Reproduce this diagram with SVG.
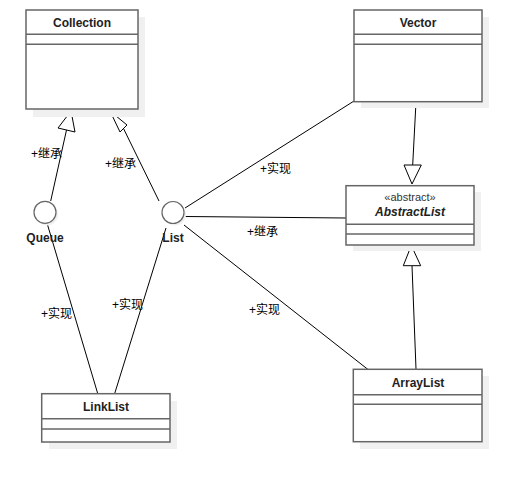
<svg xmlns="http://www.w3.org/2000/svg" width="522" height="482" viewBox="0 0 522 482">
<defs>
<style>
.shadow{fill:#f0f0f0;stroke:none}
.box{fill:#fff;stroke:#666;stroke-width:1.5}
.sep{stroke:#666;stroke-width:1.5}
.name{font-family:"Liberation Sans",Arial,sans-serif;font-size:12px;font-weight:bold;fill:#222;text-anchor:middle}
.stereo{font-family:"Liberation Sans",Arial,sans-serif;font-size:11px;fill:#333;text-anchor:middle}
.lbl{font-family:"Liberation Sans","Noto Sans CJK SC",sans-serif;font-size:12px;fill:#000}
.edge{stroke:#000;stroke-width:1;fill:none}
.tri{fill:#fff;stroke:#000;stroke-width:1}
.circ{fill:#fff;stroke:#666;stroke-width:1.2}
</style>
</defs>
<rect width="522" height="482" fill="#fff"/>
<g id="connectors">
<!-- Queue -> Collection -->
<line class="edge" x1="50.7" y1="201" x2="66.5" y2="130"/>
<polygon class="tri" points="71,111 58,128 75,132"/>
<!-- List -> Collection -->
<line class="edge" x1="159" y1="201" x2="123.5" y2="128.5"/>
<polygon class="tri" points="110,111 120,132 127,125"/>
<!-- List -> Vector -->
<line class="edge" x1="185" y1="208" x2="354" y2="101"/>
<!-- List -> AbstractList -->
<line class="edge" x1="185" y1="216.5" x2="346" y2="218"/>
<!-- List -> ArrayList -->
<line class="edge" x1="184" y1="225" x2="368" y2="369.5"/>
<!-- Queue -> LinkList -->
<line class="edge" x1="47" y1="223" x2="97.7" y2="393.5"/>
<!-- List -> LinkList -->
<line class="edge" x1="166" y1="228" x2="114.7" y2="393.5"/>
<!-- Vector -> AbstractList -->
<line class="edge" x1="416" y1="102" x2="412.7" y2="165"/>
<polygon class="tri" points="412,184 404,165 421.3,165"/>
<!-- ArrayList -> AbstractList -->
<line class="edge" x1="416" y1="369" x2="412" y2="265.7"/>
<polygon class="tri" points="411.3,245.5 403.3,265.7 420.7,265.7"/>
<text class="lbl" x="31" y="158">+继承</text>
<text class="lbl" x="105" y="168">+继承</text>
<text class="lbl" x="260" y="173">+实现</text>
<text class="lbl" x="247" y="236">+继承</text>
<text class="lbl" x="249" y="314">+实现</text>
<text class="lbl" x="41" y="318">+实现</text>
<text class="lbl" x="112" y="309">+实现</text>
</g>
<g id="Collection">
<rect class="shadow" x="33" y="17" width="112" height="100"/>
<rect class="box" x="26" y="10" width="112" height="99"/>
<line class="sep" x1="26" y1="34.3" x2="138" y2="34.3"/>
<line class="sep" x1="26" y1="44.3" x2="138" y2="44.3"/>
<text class="name" x="82" y="26.5">Collection</text>
</g>
<g id="Vector">
<rect class="shadow" x="361" y="17" width="128" height="91"/>
<rect class="box" x="354" y="10" width="128" height="91.7"/>
<line class="sep" x1="354" y1="34.3" x2="482" y2="34.3"/>
<line class="sep" x1="354" y1="44.3" x2="482" y2="44.3"/>
<text class="name" x="418" y="26.5">Vector</text>
</g>
<g id="AbstractList">
<rect class="shadow" x="353" y="192" width="128" height="59"/>
<rect class="box" x="346" y="185.7" width="128" height="59.3"/>
<line class="sep" x1="346" y1="224.3" x2="474" y2="224.3"/>
<line class="sep" x1="346" y1="234" x2="474" y2="234"/>
<text class="stereo" x="410" y="201">«abstract»</text>
<text class="name" x="410" y="216" font-style="italic">AbstractList</text>
</g>
<g id="ArrayList">
<rect class="shadow" x="360" y="376" width="129" height="73"/>
<rect class="box" x="353.3" y="369.3" width="128.7" height="72.4"/>
<line class="sep" x1="353.3" y1="394.7" x2="482" y2="394.7"/>
<line class="sep" x1="353.3" y1="404.3" x2="482" y2="404.3"/>
<text class="name" x="418" y="386.5">ArrayList</text>
</g>
<g id="LinkList">
<rect class="shadow" x="49" y="401" width="128" height="48"/>
<rect class="box" x="41.7" y="393.7" width="128.3" height="48.3"/>
<line class="sep" x1="41.7" y1="418.7" x2="170" y2="418.7"/>
<line class="sep" x1="41.7" y1="429" x2="170" y2="429"/>
<text class="name" x="106" y="410.5">LinkList</text>
</g>
<g id="Queue">
<circle cx="47" cy="214.5" r="11" fill="#f0f0f0"/>
<circle class="circ" cx="45" cy="212.3" r="11"/>
<text class="name" x="45" y="242">Queue</text>
</g>
<g id="List">
<circle cx="175" cy="214.5" r="11" fill="#f0f0f0"/>
<circle class="circ" cx="173" cy="212.5" r="11"/>
<text class="name" x="173" y="242">List</text>
</g>
</svg>
